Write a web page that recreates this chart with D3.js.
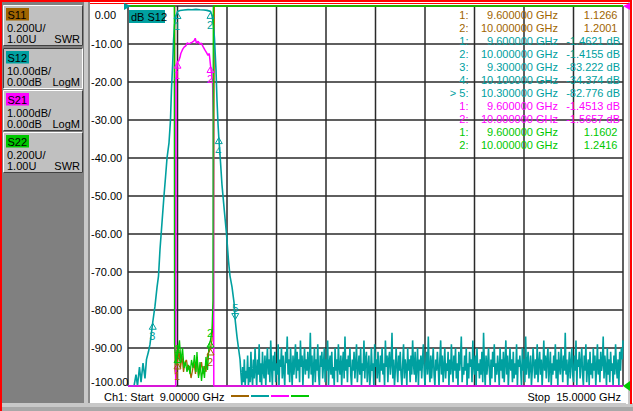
<!DOCTYPE html>
<html>
<head>
<meta charset="utf-8">
<script src="https://cdn.jsdelivr.net/npm/d3@7"></script>
<style>
  body { margin: 0; background: #fff; overflow: hidden; }
  text { font-family: "Liberation Sans", Arial, sans-serif; font-size: 11px; }
</style>
</head>
<body>
<div id="okvir"></div>
<script>
// ---- podaci ----
const yTicks = [0, -10, -20, -30, -40, -50, -60, -70, -80, -90, -100]
const yTickLabels = ["0.00", "-10.00", "-20.00", "-30.00", "-40.00", "-50.00", "-60.00", "-70.00", "-80.00", "-90.00", "-100.00"]
const xDivs = [9, 9.6, 10.2, 10.8, 11.4, 12, 12.6, 13.2, 13.8, 14.4, 15]

const traceNames = ["S11", "S12", "S21", "S22"]
const traceColors = ["#a06400", "#00a0a0", "#ff00ff", "#00c800"]
const scaleTexts = ["0.200U/", "10.00dB/", "1.000dB/", "0.200U/"]
const refTexts = ["1.00U", "0.00dB", "0.00dB", "1.00U"]
const formatTexts = ["SWR", "LogM", "LogM", "SWR"]

// S12, LogM 10 dB/div
const s12Freq = [9.000, 9.073, 9.097, 9.115, 9.139, 9.158, 9.182, 9.206, 9.224, 9.248, 9.267, 9.300,
  9.327, 9.352, 9.370, 9.388, 9.412, 9.436, 9.455, 9.473, 9.497, 9.515, 9.527, 9.542, 9.552, 9.564,
  9.582, 9.600, 9.630, 9.679, 9.727, 9.776, 9.824, 9.873, 9.921, 9.958, 10.000, 10.018, 10.036,
  10.048, 10.067, 10.079, 10.091, 10.100, 10.121, 10.139, 10.164, 10.194, 10.218, 10.236, 10.261,
  10.285, 10.300, 10.321, 10.339, 10.358]
const s12Db = [-100, -100, -97, -100, -95, -99, -94, -98, -93, -91, -89, -83.222,
  -79, -74, -71, -64, -57, -50, -45, -40, -36, -30, -22, -15, -9, -5,
  -2.6, -1.4621, -1.2, -1.05, -0.95, -1.0, -0.9, -1.0, -1.05, -1.15, -1.4155, -2.5, -5,
  -8.5, -17, -25, -31, -34.374, -41, -47, -53, -60, -67, -71, -74,
  -78, -82.776, -87, -90, -93]
// sum iznad 10.37 GHz, korak 0.01 GHz
const s12NoiseStart = 10.37
const s12NoiseStep = 0.01
const s12Noise = [
  -97, -100, -95, -99, -93, -100, -96, -98, -92, -100,
  -95, -99, -91, -97, -100, -93, -98, -90, -96, -100,
  -93, -97, -89, -99, -94, -100, -91, -96, -98, -92,
  -100, -94, -90, -97, -93, -99, -88, -95, -100, -92,
  -96, -91, -99, -94, -97, -89, -100, -93, -95, -90,
  -98, -92, -96, -100, -91, -94, -87, -97, -93, -99,
  -90, -95, -100, -92, -97, -94, -89, -98, -91, -96,
  -93, -99, -88, -95, -92, -100, -94, -90, -97, -93,
  -96, -91, -98, -94, -86, -97, -92, -100, -95, -90,
  -99, -93, -96, -89, -97, -100, -92, -95, -91, -98,
  -94, -90, -99, -93, -96, -88, -100, -94, -92, -97,
  -91, -98, -95, -100, -90, -96, -93, -99, -89, -95,
  -97, -92, -100, -94, -91, -98, -87, -96, -93, -99,
  -92, -95, -90, -97, -100, -93, -96, -91, -98, -94,
  -89, -99, -95, -92, -97, -90, -100, -94, -96, -88,
  -98, -93, -91, -99, -95, -92, -100, -97, -90, -96,
  -94, -100, -89, -95, -93, -98, -91, -96, -99, -92,
  -96, -90, -97, -94, -100, -88, -95, -92, -99, -93,
  -91, -97, -94, -86, -98, -93, -100, -96, -90, -95,
  -99, -92, -96, -91, -97, -100, -94, -89, -98, -93,
  -95, -100, -90, -96, -93, -99, -92, -97, -88, -94,
  -97, -91, -99, -95, -90, -100, -93, -96, -92, -98,
  -93, -89, -96, -100, -94, -91, -97, -87, -95, -99,
  -92, -98, -94, -90, -97, -100, -93, -96, -91, -95,
  -100, -93, -88, -97, -92, -99, -95, -90, -98, -94,
  -96, -91, -100, -93, -97, -89, -95, -99, -92, -96,
  -90, -98, -94, -100, -91, -96, -93, -87, -99, -95,
  -97, -92, -96, -90, -100, -94, -98, -91, -95, -93,
  -99, -88, -95, -97, -92, -100, -90, -96, -94, -98,
  -93, -97, -91, -99, -86, -95, -100, -92, -97, -94,
  -90, -96, -100, -93, -98, -91, -95, -89, -99, -94,
  -97, -92, -95, -100, -90, -96, -93, -98, -91, -99,
  -94, -88, -97, -92, -100, -95, -90, -96, -93, -99,
  -91, -98, -94, -97, -89, -100, -93, -95, -92, -96,
  -100, -90, -96, -93, -99, -87, -97, -94, -91, -98,
  -95, -92, -100, -96, -90, -94, -98, -93, -97, -89,
  -99, -94, -91, -97, -93, -100, -95, -88, -96, -92,
  -98, -93, -90, -99, -95, -91, -100, -94, -97, -92,
  -96, -89, -98, -93, -100, -91, -95, -97, -90, -94,
  -99, -92, -96, -86, -97, -93, -100, -95, -91, -98,
  -94, -90, -97, -99, -92, -96, -88, -100, -93, -95,
  -91, -98, -94, -90, -97, -100, -92, -96, -89, -99,
  -95, -93, -100, -91, -97, -94, -98, -90, -96, -92,
  -100, -95, -89, -97, -93, -99, -91, -96, -94, -87,
  -98, -92, -95, -100, -90, -97, -93, -99, -91, -96,
  -94, -100, -92, -97, -89, -95, -98, -93, -100, -91,
  -96, -90, -93, -88]

// S21, LogM 1 dB/div
const s21Freq = [9.000, 9.578, 9.582, 9.590, 9.600, 9.615, 9.630, 9.640, 9.660, 9.680, 9.700, 9.720,
  9.740, 9.760, 9.780, 9.800, 9.815, 9.830, 9.850, 9.870, 9.890, 9.910, 9.930, 9.950, 9.970, 9.985,
  10.000, 10.012, 10.025, 10.035, 10.040, 15.000]
const s21Db = [-20, -20, -2.0, -1.7, -1.4513, -1.45, -1.35, -1.25, -1.15, -1.08, -1.05, -0.97,
  -1.0, -0.97, -0.95, -0.92, -0.85, -0.98, -0.93, -1.0, -0.98, -1.07, -1.15, -1.22, -1.3, -1.25,
  -1.5657, -1.75, -2.0, -3.0, -20, -20]

// S11, SWR 0.2 U/div
const s11Freq = [9.000, 9.567, 9.570, 9.582, 9.600, 9.618, 9.636, 9.655, 9.673, 9.691, 9.709, 9.727,
  9.745, 9.764, 9.782, 9.800, 9.818, 9.836, 9.855, 9.873, 9.891, 9.909, 9.927, 9.945, 9.964, 9.982,
  10.000, 10.018, 10.036, 10.046, 15.000]
const s11Swr = [5, 5, 1.08, 1.04, 1.1266, 1.19, 1.095, 1.158, 1.074, 1.126, 1.137, 1.084,
  1.105, 1.042, 1.084, 1.126, 1.063, 1.153, 1.053, 1.084, 1.126, 1.063, 1.105, 1.074, 1.163, 1.18,
  1.2001, 1.242, 1.4, 5, 5]

// S22, SWR 0.2 U/div
const s22Freq = [9.000, 9.561, 9.564, 9.582, 9.594, 9.600, 9.624, 9.642, 9.661, 9.679, 9.697, 9.715,
  9.733, 9.752, 9.770, 9.788, 9.806, 9.824, 9.836, 9.855, 9.873, 9.891, 9.909, 9.927, 9.945, 9.964,
  9.982, 10.000, 10.018, 10.030, 10.034, 15.000]
const s22Swr = [5, 5, 1.22, 1.11, 1.19, 1.1602, 1.24, 1.126, 1.20, 1.095, 1.126, 1.074,
  1.111, 1.063, 1.137, 1.095, 1.163, 1.074, 1.179, 1.042, 1.126, 1.026, 1.105, 1.042, 1.153, 1.084,
  1.216, 1.2416, 1.295, 1.45, 5, 5]

// markeri
const s11MkFreq = [9.6, 10.0], s11MkVal = [1.1266, 1.2001]
const s12MkFreq = [9.6, 10.0, 9.3, 10.1, 10.3], s12MkVal = [-1.4621, -1.4155, -83.222, -34.374, -82.776]
const s21MkFreq = [9.6, 10.0], s21MkVal = [-1.4513, -1.5657]
const s22MkFreq = [9.6, 10.0], s22MkVal = [1.1602, 1.2416]

// tablica markera
const tabTrace = [0, 0, 1, 1, 1, 1, 1, 2, 2, 3, 3]
const tabNum = ["1:", "2:", "1:", "2:", "3:", "4:", "> 5:", "1:", "2:", "1:", "2:"]
const tabFreq = ["9.600000 GHz", "10.000000 GHz", "9.600000 GHz", "10.000000 GHz", "9.300000 GHz",
  "10.100000 GHz", "10.300000 GHz", "9.600000 GHz", "10.000000 GHz", "9.600000 GHz", "10.000000 GHz"]
const tabVal = ["1.1266", "1.2001", "-1.4621 dB", "-1.4155 dB", "-83.222 dB", "-34.374 dB",
  "-82.776 dB", "-1.4513 dB", "-1.5657 dB", "1.1602", "1.2416"]

// ---- crtanje ----
const sirina = 633, visina = 411
const okvir = d3.select("#okvir").append("svg")
  .attr("width", sirina).attr("height", visina)

okvir.append("rect").attr("width", sirina).attr("height", visina).attr("fill", "#fff")

// lijevi panel
okvir.append("rect").attr("x", 0).attr("y", 0).attr("width", 85).attr("height", visina).attr("fill", "#808080")
okvir.append("rect").attr("x", 84).attr("y", 0).attr("width", 4).attr("height", visina).attr("fill", "#c8c8c8")
okvir.append("rect").attr("x", 88).attr("y", 0).attr("width", 2).attr("height", visina).attr("fill", "#8c8c8c")
// donja traka
okvir.append("rect").attr("x", 0).attr("y", 403).attr("width", sirina).attr("height", 8).attr("fill", "#a8a8a8")
okvir.append("rect").attr("x", 0).attr("y", 403).attr("width", sirina).attr("height", 4).attr("fill", "#c8c8c8")
okvir.append("rect").attr("x", 626).attr("y", 0).attr("width", 4).attr("height", 407).attr("fill", "#c8c8c8")
okvir.append("rect").attr("x", 626).attr("y", 0).attr("width", 2).attr("height", 404).attr("fill", "#fff")

// gumbi
const btnY = [5, 48, 90, 132]
traceNames.forEach((ime, i) => {
  const g = okvir.append("g").attr("transform", `translate(3,${btnY[i]})`)
  const w = 80, h = 41
  const svijetla = i === 1 ? "#404040" : "#ffffff"
  const tamna = i === 1 ? "#ffffff" : "#404040"
  g.append("rect").attr("width", w).attr("height", h).attr("fill", "#c0c0c0")
  g.append("path").attr("d", `M0.5,${h - 0.5}V0.5H${w - 0.5}`).attr("stroke", svijetla).attr("fill", "none")
  g.append("path").attr("d", `M0.5,${h - 0.5}H${w - 0.5}V0.5`).attr("stroke", tamna).attr("fill", "none")
  g.append("rect").attr("x", 3).attr("y", 3).attr("width", 23).attr("height", 12.5).attr("fill", traceColors[i])
  g.append("text").attr("x", 4.5).attr("y", 14).attr("fill", "#000").text(ime)
  g.append("text").attr("x", 4).attr("y", 26.5).attr("fill", "#000").text(scaleTexts[i])
  g.append("text").attr("x", 4).attr("y", 37.5).attr("fill", "#000").text(refTexts[i])
  g.append("text").attr("x", 77).attr("y", 37.5).attr("text-anchor", "end").attr("fill", "#000").text(formatTexts[i])
})

// crveni okvir
okvir.append("path").attr("d", "M1,411V1H631V404").attr("stroke", "#ff0000").attr("stroke-width", 2).attr("fill", "none")
okvir.append("line").attr("x1", 90).attr("x2", 630).attr("y1", 3.5).attr("y2", 3.5).attr("stroke", "#ff0000").attr("stroke-width", 1)

// skale
const x = d3.scaleLinear().domain([9, 15]).range([128, 623])
const yLog10 = d3.scaleLinear().domain([0, -100]).range([6, 386]).clamp(true)
const yLog1 = d3.scaleLinear().domain([0, -10]).range([6, 386]).clamp(true)
const ySwr = d3.scaleLinear().domain([1, 3]).range([386, 6]).clamp(true)

// mreza
const mreza = okvir.append("g")
mreza.selectAll(".vl").data(xDivs).enter().append("line")
  .attr("x1", d => x(d)).attr("x2", d => x(d)).attr("y1", yLog10(0)).attr("y2", yLog10(-100))
  .attr("stroke", "#2a2a2a").attr("stroke-width", 1.5)
mreza.selectAll(".hl").data(yTicks).enter().append("line")
  .attr("x1", x(9)).attr("x2", x(15)).attr("y1", d => yLog10(d)).attr("y2", d => yLog10(d))
  .attr("stroke", "#2a2a2a").attr("stroke-width", 1.5)

// oznake osi y
okvir.selectAll(".ylab").data(yTicks).enter().append("text")
  .attr("x", (d, i) => yTickLabels[i].startsWith("-") ? 91 : 94.7)
  .attr("y", (d, i) => i === 0 ? 18.7 : i === yTicks.length - 1 ? 386 : yLog10(d) + 4.3)
  .attr("fill", "#000")
  .text((d, i) => yTickLabels[i])

// tablica markera (ispod tragova, preko mreze)
const tablica = okvir.append("g")
tabNum.forEach((n, i) => {
  const boja = traceColors[tabTrace[i]]
  const yb = 18.5 + 13 * i
  tablica.append("text").attr("x", 468.5).attr("y", yb).attr("text-anchor", "end").attr("fill", boja).text(n)
  tablica.append("text").attr("x", 558).attr("y", yb).attr("text-anchor", "end").attr("fill", boja).text(tabFreq[i])
  tablica.append("text").attr("x", tabVal[i].endsWith("dB") ? 620 : 617.5).attr("y", yb)
    .attr("text-anchor", "end").attr("fill", boja).text(tabVal[i])
})

// tragovi
const tragovi = okvir.append("g").attr("fill", "none")
const zip = (a, b) => a.map((f, i) => [f, b[i]])
const s12Data = zip(s12Freq, s12Db).concat(s12Noise.map((v, i) => [s12NoiseStart + i * s12NoiseStep, v]))

function crtajTrag(data, yScale, boja, sirinaLinije) {
  const linija = d3.line().x(d => x(d[0])).y(d => yScale(d[1]))
  tragovi.append("path").attr("d", linija(data))
    .attr("stroke", boja).attr("stroke-width", sirinaLinije).attr("stroke-linejoin", "bevel")
}
crtajTrag(zip(s11Freq, s11Swr), ySwr, traceColors[0], 1.3)
crtajTrag(s12Data, yLog10, traceColors[1], 1.6)
crtajTrag(zip(s21Freq, s21Db), yLog1, traceColors[2], 1.5)
crtajTrag(zip(s22Freq, s22Swr), ySwr, traceColors[3], 1.3)

// markeri na tragovima; gore = broj iznad trokuta
function crtajMarkere(freqs, vals, yScale, boja, aktivni, gore) {
  freqs.forEach((f, i) => {
    const px = x(f), py = yScale(vals[i])
    const g = okvir.append("g").attr("fill", "none").attr("stroke", boja)
    if (i === aktivni) {
      g.append("path").attr("d", `M${px},${py - 1}L${px - 3.5},${py - 7}H${px + 3.5}Z`)
      g.append("text").attr("x", px).attr("y", py - 9).attr("text-anchor", "middle")
        .attr("stroke", "none").attr("fill", boja).text(i + 1)
    } else {
      g.append("path").attr("d", `M${px},${py + 1}L${px - 3.5},${py + 7}H${px + 3.5}Z`)
      g.append("text").attr("x", px - 0.5).attr("y", gore ? py - 3 : py + 18).attr("text-anchor", "middle")
        .attr("stroke", "none").attr("fill", boja).text(i + 1)
    }
  })
}
crtajMarkere(s11MkFreq, s11MkVal, ySwr, traceColors[0], -1, false)
crtajMarkere(s12MkFreq, s12MkVal, yLog10, traceColors[1], 4, false)
crtajMarkere(s21MkFreq, s21MkVal, yLog1, traceColors[2], -1, false)
crtajMarkere(s22MkFreq, s22MkVal, ySwr, traceColors[3], -1, true)

// indikatori referentne razine
okvir.append("path").attr("d", `M124,3L131,${yLog10(0)}L124,10Z`).attr("fill", traceColors[1])
okvir.append("path").attr("d", `M630,3L623,${yLog1(0)}L630,10Z`).attr("fill", traceColors[2])
okvir.append("path").attr("d", `M630,381L623,${ySwr(1)}L630,391Z`).attr("fill", traceColors[3])

// oznaka aktivnog traga
okvir.append("rect").attr("x", 129).attr("y", 10).attr("width", 36).attr("height", 13).attr("fill", traceColors[1])
okvir.append("text").attr("x", 131).attr("y", 21).attr("fill", "#000").text("dB S12")

// donji tekst
okvir.append("text").attr("x", 104).attr("y", 401).attr("fill", "#000").attr("xml:space", "preserve")
  .text("Ch1: Start  9.00000 GHz")
okvir.append("text").attr("x", 621).attr("y", 401).attr("text-anchor", "end").attr("fill", "#000")
  .attr("xml:space", "preserve").text("Stop  15.0000 GHz")
traceColors.forEach((c, i) => {
  okvir.append("line").attr("x1", 231 + i * 20).attr("x2", 249 + i * 20).attr("y1", 396).attr("y2", 396)
    .attr("stroke", c).attr("stroke-width", 2)
})
</script>
</body>
</html>
